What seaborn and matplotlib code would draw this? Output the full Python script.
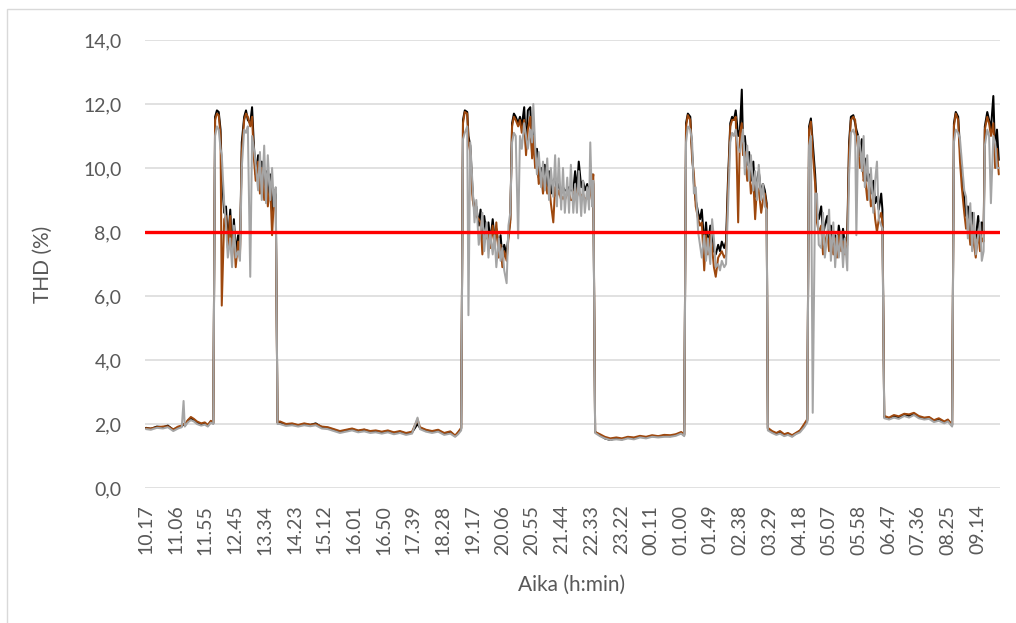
import numpy as np
import pandas as pd
import matplotlib
matplotlib.use("Agg")
import matplotlib.pyplot as plt
from matplotlib.patches import Rectangle
import seaborn as sns

# Minutes elapsed since the first sample (10.17)
minute = [
    0, 8, 18, 28, 36, 45, 53, 59, 62, 64, 69, 74, 79, 84, 91, 97, 102, 107, 111,
    114, 117, 120, 123, 125, 129, 132, 135, 139, 142, 145, 148, 152, 155, 158, 162, 165, 168, 172, 175,
    178, 181, 185, 188, 191, 195, 198, 201, 205, 208, 211, 214, 217,
    221, 231, 241, 251, 261, 271, 280, 290, 300, 310, 320, 330, 340, 350, 360, 370, 379, 389, 399, 409,
    419, 429, 439, 448, 452, 462, 472, 482, 492, 502, 510, 515, 520,
    523, 526, 530, 532, 535, 539, 542, 545, 549, 552, 555, 558, 562, 565, 568, 572, 575, 578, 582, 585,
    588, 591, 595, 598, 601, 604, 607, 610, 614, 617, 620, 624, 627, 630, 634, 637, 639, 642, 645, 648,
    652, 655, 658, 662, 665, 668, 672, 675, 678, 681, 685, 688, 691, 695, 698, 701, 705, 708, 711, 714,
    718, 721, 724, 728, 731, 733, 736, 738,
    741, 749, 757, 766, 776, 785, 795, 805, 815, 825, 835, 845, 855, 865, 874, 883, 888,
    891, 894, 898, 901, 904, 907, 911, 914, 917, 921, 924, 927, 931, 934, 937, 940, 944, 947, 950, 954,
    957, 960, 964, 967, 970, 973, 977, 980, 983, 985, 988, 992, 995, 998, 1002, 1005, 1008, 1011, 1015,
    1018, 1021, 1024,
    1026, 1033, 1040, 1046, 1053, 1059, 1066, 1072, 1079, 1086, 1091,
    1094, 1097, 1100, 1104, 1107, 1110, 1114, 1117, 1120, 1124, 1127, 1130, 1134, 1137, 1140, 1143, 1147,
    1150, 1153, 1157, 1160, 1163, 1167, 1170, 1172, 1175, 1178, 1181, 1184, 1186, 1190, 1193, 1196, 1200,
    1203, 1206, 1209, 1213, 1215,
    1218, 1226, 1234, 1242, 1251, 1259, 1267, 1275, 1284, 1292, 1300, 1308, 1317, 1323, 1330,
    1333, 1336, 1340, 1343, 1346, 1350, 1353, 1356, 1360, 1363, 1366, 1369, 1373, 1376, 1379, 1382, 1384,
    1388, 1391, 1394, 1398, 1401, 1404, 1407,
]

# THD (%) of the three phases
thd_l1 = [
    1.88, 1.85, 1.92, 1.90, 1.95, 1.82, 1.90, 1.93, 2.00, 1.95, 2.10, 2.18, 2.12, 2.05, 1.98, 2.02, 1.95, 2.08, 2.02,
    11.6, 11.8, 11.75, 11.2, 9.8, 8.6, 8.8, 7.6, 8.7, 7.3, 8.4, 7.4, 7.9, 7.3, 10.8, 11.6, 11.8, 11.5, 11.4, 11.9,
    10.7, 9.8, 10.4, 9.4, 10.2, 9.2, 9.9, 9.0, 9.8, 8.6, 9.3, 9.3, 2.05,
    2.05, 1.98, 2.00, 1.95, 2.00, 1.97, 2.02, 1.90, 1.88, 1.82, 1.75, 1.80, 1.84, 1.78, 1.82, 1.76, 1.78, 1.74,
    1.78, 1.72, 1.76, 1.70, 1.74, 2.00, 1.88, 1.80, 1.76, 1.80, 1.70, 1.75, 1.62, 1.72, 1.85,
    11.5, 11.8, 11.75, 11.0, 10.7, 9.2, 8.6, 8.8, 8.2, 8.7, 7.6, 8.5, 7.9, 8.3, 7.7, 8.4, 7.8, 8.1, 7.5, 7.9,
    7.2, 7.6, 7.3, 7.9, 8.4,
    11.4, 11.7, 11.6, 11.4, 11.6, 11.3, 11.9, 10.6, 11.8, 11.9, 10.4,
    11.3,
    10.2, 10.6, 9.7, 10.0, 9.5, 10.1, 9.4, 9.9, 9.2, 9.6, 9.7, 9.3, 9.5, 9.2, 9.4, 9.3, 9.3, 9.4, 9.3, 9.3,
    9.9, 9.3, 10.2, 9.4, 9.6, 9.3, 9.5, 9.2,
    9.5, 9.8, 9.5,
    1.75, 1.65, 1.55, 1.50, 1.56, 1.52, 1.58, 1.55, 1.60, 1.58, 1.62, 1.60, 1.64, 1.62, 1.66, 1.72, 1.65,
    11.4, 11.7, 11.6, 10.5, 9.5, 9.0, 8.6, 8.4, 8.7, 7.6, 8.3, 7.5, 8.2, 8.0, 7.4, 7.3, 7.6, 7.4, 7.7, 7.5,
    7.7, 9.5, 11.4, 11.6, 11.5, 11.8, 11.0, 11.2,
    12.45,
    10.8, 11.0, 10.1, 10.5, 9.6, 10.2, 9.1, 9.6, 9.9, 9.2, 9.5, 9.3, 8.9,
    1.85, 1.75, 1.70, 1.75, 1.65, 1.70, 1.62, 1.70, 1.78, 1.95, 2.10,
    11.3, 11.55, 10.8, 9.8, 8.6, 8.4, 8.8, 7.9, 8.2, 8.5, 7.6, 8.2, 7.6, 7.9, 7.5, 8.2, 7.6, 8.1, 7.6, 7.9,
    10.8, 11.6, 11.65, 11.4, 11.2, 11.0, 10.4, 10.9, 10.0, 10.3, 9.6, 9.8, 9.2, 9.6, 8.9, 9.1, 8.7, 9.2, 8.7,
    2.22, 2.18, 2.25, 2.20, 2.30, 2.25, 2.32, 2.22, 2.18, 2.20, 2.10, 2.15, 2.05, 2.12, 1.95,
    11.4, 11.75, 11.6, 10.6, 9.8, 9.0, 8.5, 8.8, 7.9, 8.6, 8.0, 7.8, 8.5, 7.7, 8.3, 8.0, 11.3, 11.75, 11.5,
    11.2, 12.25, 10.4, 11.2, 10.25,
]

thd_l2 = [
    1.87, 1.86, 1.90, 1.92, 1.93, 1.83, 1.92, 1.95, 2.00, 1.98, 2.12, 2.22, 2.16, 2.08, 2.02, 2.05, 1.97, 2.10, 2.04,
    11.5, 11.7, 11.65, 11.0, 5.7, 8.4, 8.5, 7.5, 8.5, 7.2, 8.0, 6.9, 7.7, 7.2, 10.5, 11.5, 11.7, 11.6, 11.3, 11.6,
    10.3, 9.6, 10.2, 9.2, 10.0, 9.0, 9.8, 8.8, 9.5, 7.9, 9.0, 9.0, 2.05,
    2.08, 2.00, 2.02, 1.97, 2.02, 1.98, 2.00, 1.92, 1.90, 1.84, 1.78, 1.82, 1.86, 1.80, 1.83, 1.78, 1.80, 1.76,
    1.80, 1.74, 1.78, 1.72, 1.76, 2.15, 1.90, 1.82, 1.78, 1.82, 1.72, 1.77, 1.64, 1.75, 1.88,
    11.4, 11.75, 11.7, 10.8, 10.5, 9.0, 8.7, 8.5, 8.4, 8.3, 7.3, 8.0, 7.8, 8.0, 7.5, 8.2, 7.6, 8.3, 7.2, 7.6,
    6.9, 7.4, 7.1, 7.8, 8.3,
    11.3, 11.6, 11.5, 11.3, 11.5, 11.1, 11.5, 10.4, 11.2, 11.6, 10.3,
    11.0,
    10.0, 10.3, 9.5, 9.8, 9.2, 9.7, 9.2, 9.5, 8.9, 8.3, 9.4, 9.1, 9.3, 9.0, 9.1, 9.0, 9.2, 9.2, 9.0, 9.0,
    9.4, 9.1, 9.3, 9.1, 9.2, 9.0, 9.1, 9.0,
    9.2, 9.5, 9.8,
    1.75, 1.68, 1.60, 1.55, 1.58, 1.55, 1.60, 1.58, 1.63, 1.60, 1.65, 1.62, 1.66, 1.65, 1.68, 1.75, 1.68,
    11.3, 11.65, 11.5, 10.3, 9.8, 8.8, 8.4, 8.2, 8.3, 6.8, 7.9, 7.3, 7.9, 7.5, 6.9, 6.6, 7.2, 7.3, 7.4, 7.2,
    7.3, 9.2, 11.3, 11.5, 11.5, 11.6, 8.3, 11.1,
    11.4,
    10.4, 10.5, 9.6, 10.1, 9.2, 9.6, 8.4, 9.4, 9.3, 8.6, 9.0, 9.2, 8.8,
    1.88, 1.78, 1.72, 1.78, 1.68, 1.72, 1.65, 1.72, 1.80, 2.00, 2.15,
    11.2, 11.45, 10.5, 9.5, 8.3, 8.0, 8.2, 7.3, 7.6, 8.0, 7.4, 7.8, 7.3, 7.8, 7.2, 8.0, 7.4, 7.7, 7.3, 7.6,
    10.6, 11.5, 11.6, 11.5, 11.0, 10.6, 10.0, 10.4, 9.6, 9.8, 9.0, 9.5, 8.8, 9.1, 8.4, 8.0, 8.4, 8.6, 8.3,
    2.25, 2.20, 2.28, 2.24, 2.32, 2.30, 2.35, 2.25, 2.20, 2.22, 2.12, 2.18, 2.08, 2.14, 1.98,
    11.3, 11.7, 11.5, 10.2, 9.4, 8.6, 8.1, 8.4, 7.6, 8.2, 7.6, 7.2, 8.0, 7.4, 7.8, 7.7, 11.2, 11.6, 11.4,
    11.0, 11.4, 10.0, 10.6, 9.8,
]

thd_l3 = [
    1.84, 1.82, 1.88, 1.86, 1.90, 1.78, 1.86, 1.90, 2.72, 1.92, 2.05, 2.12, 2.08, 2.00, 1.95, 1.98, 1.92, 2.04, 2.00,
    11.0, 11.3, 11.2, 10.6, 10.4, 8.9, 8.2, 7.2, 7.8, 6.9, 8.2, 7.2, 7.4, 7.1, 10.0, 11.2, 11.1, 11.3, 6.6, 11.0,
    10.6, 10.1, 9.3, 10.5, 9.0, 10.7, 8.9, 10.4, 9.0, 10.0, 8.8, 9.4, 2.0,
    2.00, 1.94, 1.96, 1.92, 1.96, 1.93, 1.96, 1.86, 1.84, 1.78, 1.72, 1.76, 1.80, 1.74, 1.77, 1.72, 1.74, 1.70,
    1.74, 1.68, 1.72, 1.66, 1.70, 2.20, 1.84, 1.76, 1.72, 1.76, 1.66, 1.70, 1.60, 1.68, 1.80,
    10.9, 11.1, 11.3, 5.4, 10.8, 9.4, 8.3, 9.0, 7.6, 8.0, 8.6, 7.4, 8.3, 7.2, 8.0, 7.3, 7.9, 6.9, 7.8, 7.1,
    7.5, 6.8, 6.4, 8.2, 8.6,
    10.8, 11.1, 11.0, 7.8, 11.0, 10.6, 11.4, 11.0, 10.6, 11.2, 10.8,
    12.0,
    10.7, 9.8, 10.5, 9.4, 10.2, 9.3, 10.3, 9.0, 10.0, 9.1, 10.4, 8.8, 10.3, 8.7, 10.0, 8.6, 9.7, 8.6, 10.1, 8.6,
    9.5, 8.6, 9.9, 8.5, 9.6, 8.6, 9.4, 8.7,
    10.8, 8.8, 9.6,
    1.72, 1.62, 1.55, 1.50, 1.52, 1.50, 1.55, 1.52, 1.58, 1.55, 1.60, 1.58, 1.60, 1.60, 1.63, 1.70, 1.62,
    10.8, 11.3, 11.2, 10.8, 9.2, 9.4, 8.0, 7.6, 7.2, 7.9, 7.1, 7.8, 7.0, 8.4, 7.8, 6.9, 7.0, 6.8, 7.1, 6.9,
    7.0, 8.6, 10.8, 11.1, 11.0, 11.2, 10.6, 10.5,
    10.9,
    11.2, 9.8, 10.7, 9.6, 10.4, 9.3, 9.9, 9.0, 10.1, 9.0, 9.5, 8.8, 8.7,
    1.80, 1.72, 1.66, 1.70, 1.62, 1.66, 1.60, 1.68, 1.74, 1.90, 2.05,
    10.7, 11.0, 2.35, 9.2, 9.2, 7.6, 7.5, 8.6, 7.2, 7.9, 8.7, 7.1, 8.3, 6.9, 7.9, 7.2, 8.0, 6.9, 7.8, 6.8,
    9.8, 11.1, 11.2, 11.0, 7.9, 11.0, 10.7, 9.9, 11.0, 9.4, 10.4, 9.0, 10.0, 8.6, 9.6, 10.2, 8.4, 8.2, 8.1,
    2.18, 2.14, 2.20, 2.16, 2.25, 2.20, 2.28, 2.18, 2.14, 2.16, 2.06, 2.10, 2.02, 2.08, 1.92,
    10.8, 11.2, 11.1, 10.9, 10.2, 9.3, 9.1, 7.8, 8.9, 7.4, 8.6, 7.3, 7.9, 8.3, 7.1, 7.4, 10.7, 11.2, 11.0,
    8.9, 11.0, 10.8, 10.0, 10.0,
]

phase_names = ["L1", "L2", "L3"]
phase_colors = ["#000000", "#9E480E", "#A5A5A5"]

# Limit value for THD
thd_limit = 8.0

# Category labels every 49 minutes
time_labels = [
    "10.17", "11.06", "11.55", "12.45", "13.34", "14.23", "15.12", "16.01", "16.50", "17.39",
    "18.28", "19.17", "20.06", "20.55", "21.44", "22.33", "23.22", "00.11", "01.00", "01.49",
    "02.38", "03.29", "04.18", "05.07", "05.58", "06.47", "07.36", "08.25", "09.14",
]
label_step = 49

y_ticks = [0, 2, 4, 6, 8, 10, 12, 14]

df = pd.concat(
    [
        pd.DataFrame({"minute": minute, "thd": vals, "phase": name})
        for name, vals in zip(phase_names, [thd_l1, thd_l2, thd_l3])
    ],
    ignore_index=True,
)

sns.set_theme(style="white")
plt.rcParams["font.family"] = ["Lato", "DejaVu Sans"]

text_color = "#595959"
grid_color = "#D9D9D9"

fig = plt.figure(figsize=(10.16, 6.23), dpi=100)
ax = fig.add_axes([145 / 1016, (623 - 488) / 623, 855 / 1016, 448 / 623])

sns.lineplot(
    data=df, x="minute", y="thd", hue="phase", hue_order=phase_names,
    palette=phase_colors, estimator=None, sort=False, linewidth=1.45,
    legend=False, ax=ax,
)
ax.axhline(thd_limit, color="#FF0000", linewidth=2.4, zorder=5)

ax.set_xlim(-1.65, 1409)
ax.set_ylim(0, 14)

ax.set_yticks(y_ticks)
ax.set_yticklabels([f"{v:.1f}".replace(".", ",") for v in y_ticks],
                   fontsize=14, color=text_color)
ax.set_xticks([i * label_step for i in range(len(time_labels))])
ax.set_xticklabels(time_labels, rotation=90, fontsize=14, color=text_color)
ax.tick_params(axis="both", length=0)
ax.tick_params(axis="y", pad=17)
ax.tick_params(axis="x", pad=12)

ax.yaxis.grid(True, color=grid_color, linewidth=1.1)
ax.xaxis.grid(False)
ax.set_axisbelow(True)
for spine in ax.spines.values():
    spine.set_visible(False)

ax.set_ylabel("THD (%)", fontsize=15, color=text_color)
ax.yaxis.set_label_coords(-0.12, 0.5)
ax.set_xlabel("Aika (h:min)", fontsize=15, color=text_color)
ax.xaxis.set_label_coords(0.4994, -0.2165)
ax.xaxis.label.set_va("center")
ax.yaxis.label.set_va("center")

# Chart area outline
fig.patches.append(Rectangle((7 / 1016, -0.1), 1.2, 1.1 - 9 / 623, transform=fig.transFigure,
                             fill=False, edgecolor=grid_color, linewidth=1.0))

fig.savefig("out.png", dpi=100, facecolor="white")
